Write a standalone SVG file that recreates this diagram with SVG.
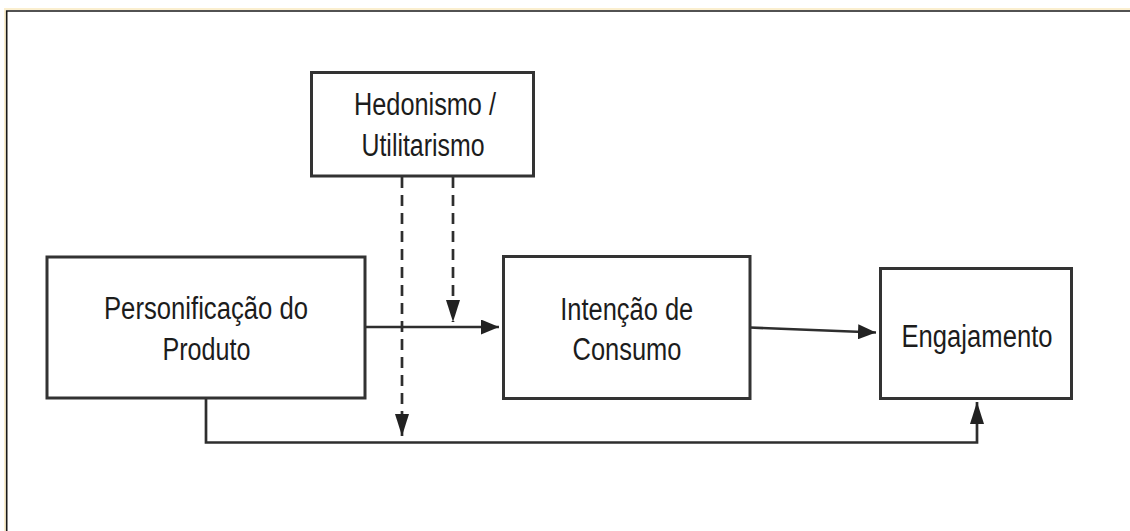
<svg xmlns="http://www.w3.org/2000/svg" width="1130" height="531" viewBox="0 0 1130 531">
  <style>
    .box { fill: #ffffff; stroke: #333333; stroke-width: 3; }
    .lbl { font-family: "Liberation Sans", Arial, sans-serif; font-size: 31px; fill: #1c1c1c; text-anchor: middle; }
    .conn { fill: none; stroke: #2e2e2e; stroke-width: 2.7; }
    .dash { stroke-dasharray: 11 7; }
  </style>
  <defs>
    <marker id="arr" viewBox="0 0 18 15" refX="18" refY="7.5" markerWidth="18" markerHeight="15" markerUnits="userSpaceOnUse" orient="auto">
      <path d="M0,0 L18,7.5 L0,15 z" fill="#222222"/>
    </marker>
    <marker id="arrLong" viewBox="0 0 22 14" refX="22" refY="7" markerWidth="22" markerHeight="14" markerUnits="userSpaceOnUse" orient="auto">
      <path d="M0,0 L22,7 L0,14 z" fill="#222222"/>
    </marker>
  </defs>

  <rect x="0" y="0" width="1130" height="531" fill="#ffffff"/>
  <g id="frame">
    <path d="M5,531 V9 H1130" fill="none" stroke="#fbefcf" stroke-width="2"/>
    <path d="M6.7,531 V11 H1130" fill="none" stroke="#1a1a1a" stroke-width="1.6"/>
  </g>

  <g id="connectors">
    <path class="conn" d="M365,327 H499" marker-end="url(#arr)"/>
    <path class="conn" d="M750,327.5 L876,332.5" marker-end="url(#arr)"/>
    <path class="conn" d="M206,398 V442.5 H977 V402" marker-end="url(#arrLong)"/>
    <path class="conn dash" d="M402,177 V436" marker-end="url(#arrLong)"/>
    <path class="conn dash" d="M453,177 V322" marker-end="url(#arrLong)"/>
  </g>

  <g id="node-hedonismo">
    <rect class="box" x="311.5" y="72.5" width="222" height="103.5"/>
    <text class="lbl" x="425" y="115" textLength="142" lengthAdjust="spacingAndGlyphs">Hedonismo /</text>
    <text class="lbl" x="423" y="156" textLength="123" lengthAdjust="spacingAndGlyphs">Utilitarismo</text>
  </g>

  <g id="node-personificacao">
    <rect class="box" x="47" y="257" width="318" height="141"/>
    <text class="lbl" x="206" y="319" textLength="204" lengthAdjust="spacingAndGlyphs">Personificação do</text>
    <text class="lbl" x="206.5" y="360" textLength="88" lengthAdjust="spacingAndGlyphs">Produto</text>
  </g>

  <g id="node-intencao">
    <rect class="box" x="503.5" y="256.5" width="246.5" height="142"/>
    <text class="lbl" x="626.7" y="320" textLength="133" lengthAdjust="spacingAndGlyphs">Intenção de</text>
    <text class="lbl" x="627" y="359.5" textLength="109" lengthAdjust="spacingAndGlyphs">Consumo</text>
  </g>

  <g id="node-engajamento">
    <rect class="box" x="880.5" y="268.5" width="191" height="130"/>
    <text class="lbl" x="977" y="346.5" textLength="151" lengthAdjust="spacingAndGlyphs">Engajamento</text>
  </g>
</svg>
